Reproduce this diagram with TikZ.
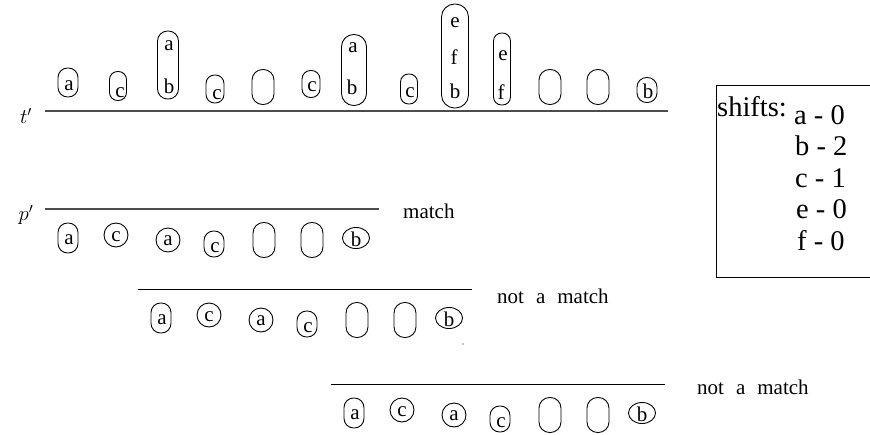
\documentclass[tikz,border=0pt]{standalone}
\usepackage{fontspec}
\setmainfont{Liberation Serif}
\usetikzlibrary{shapes.geometric}
\tikzset{
  pillst/.style={draw, line width=0.9pt, inner sep=0pt},
  circst/.style={draw, line width=0.9pt, inner sep=0pt, ellipse},
  lt/.style={inner sep=0pt, font=\fontsize{21}{21}\selectfont},
  lbl/.style={inner sep=0pt, anchor=base west, font=\fontsize{21}{21}\selectfont},
  shf/.style={inner sep=0pt, anchor=base west, font=\fontsize{28.5}{28.5}\selectfont},
  thickrule/.style={draw=black!70, line width=1.6pt},
  thinrule/.style={draw=black, line width=1pt},
}
\newcommand\pillnode[5]{%
  \node[pillst, minimum width=#4pt, minimum height=#5pt, rounded corners=#4*0.5pt-0.4pt] (#1) at (#2,#3) {};}
\newcommand\circnode[5]{%
  \node[circst, minimum width=#4pt, minimum height=#5pt] (#1) at (#2,#3) {};}
\newcommand\patrow[3]{%
  \begin{scope}[shift={(#2,#3)}]
    \pillnode{#1A}{23}{29}{20}{30}\node[lt] (#1Al) at (24,31) {a};
    \circnode{#1C}{71}{26}{24}{24}\node[lt] (#1Cl) at (71,28) {c};
    \circnode{#1D}{123}{31}{24}{24}\node[lt] (#1Dl) at (123,32) {a};
    \pillnode{#1E}{169}{35}{20}{26}\node[lt] (#1El) at (170,39) {c};
    \pillnode{#1F}{219}{31}{22}{35}
    \pillnode{#1G}{267}{31}{22}{35}
    \circnode{#1H}{311}{29}{27}{21}\node[lt] (#1Hl) at (311,30) {b};
  \end{scope}}
\begin{document}
\begin{tikzpicture}[x=1pt,y=-1pt]
\useasboundingbox (0,0) rectangle (870,434);
% text row t'
\node[inner sep=0pt, font=\fontsize{21}{21}\selectfont] (tl) at (26,116) {$t'$};
\coordinate (t0) at (45,111);
\coordinate (t1) at (668,111);
\draw[thickrule] (t0) -- (t1);
\pillnode{o1}{68}{82.5}{20}{29}\node[lt] (o1a) at (69,86) {a};
\pillnode{o2}{118}{86}{17}{29}\node[lt] (o2c) at (120,93) {c};
\pillnode{o3}{168}{65}{21}{68}\node[lt] (o3a) at (169,46) {a};\node[lt] (o3b) at (169,86) {b};
\pillnode{o4}{215}{89}{18}{28}\node[lt] (o4c) at (217,95) {c};
\pillnode{o5}{263}{87}{22}{35}
\pillnode{o6}{311}{84}{18}{27}\node[lt] (o6c) at (312,87) {c};
\pillnode{o7}{354}{70}{25}{71}\node[lt] (o7a) at (353,48) {a};\node[lt] (o7b) at (352,87) {b};
\pillnode{o8}{409}{89}{17}{30}\node[lt] (o8c) at (410,93) {c};
\pillnode{o9}{455}{56}{27}{104}\node[lt] (o9e) at (455,23) {e};\node[lt] (o9f) at (454,57) {f};\node[lt] (o9b) at (455,91) {b};
\pillnode{o10}{502}{69}{17}{72}\node[lt] (o10e) at (503,56) {e};\node[lt] (o10f) at (501,92) {f};
\pillnode{o11}{550}{87}{22}{35}
\pillnode{o12}{598}{87}{22}{35}
\pillnode{o13}{647}{90}{20}{25}\node[lt] (o13b) at (648,91) {b};
% pattern row 1
\node[inner sep=0pt, font=\fontsize{21}{21}\selectfont] (pl) at (26,215) {$p'$};
\coordinate (p0) at (45,209);
\coordinate (p1) at (379,209);
\draw[thickrule] (p0) -- (p1);
\patrow{r}{45}{209}
\node[lbl] (m1) at (403,218) {match};
% pattern row 2
\coordinate (q0) at (138,289);
\coordinate (q1) at (472,289);
\draw[thinrule] (q0) -- (q1);
\patrow{s}{138}{289}
\node[lbl] (m2) at (497,303) {not\hspace{12pt}a\hspace{12pt}match};
\fill (463,344) circle (0.6pt);
% pattern row 3
\coordinate (u0) at (331,384);
\coordinate (u1) at (665,384);
\draw[thinrule] (u0) -- (u1);
\patrow{v}{331}{384}
\node[lbl] (m3) at (697,394) {not\hspace{12pt}a\hspace{12pt}match};
% shifts box
\coordinate (b0) at (716,85);
\coordinate (b1) at (716,277);
\draw[line width=1pt] (871,85) -- (b0) -- (b1) -- (871,277);
\node[shf] (sh) at (717,116) {shifts:};
\node[shf] (s1) at (794,124) {a - 0};
\node[shf] (s2) at (795,155) {b - 2};
\node[shf] (s3) at (795,187) {c - 1};
\node[shf] (s4) at (796,218) {e - 0};
\node[shf] (s5) at (797,250) {f - 0};
\end{tikzpicture}
\end{document}
